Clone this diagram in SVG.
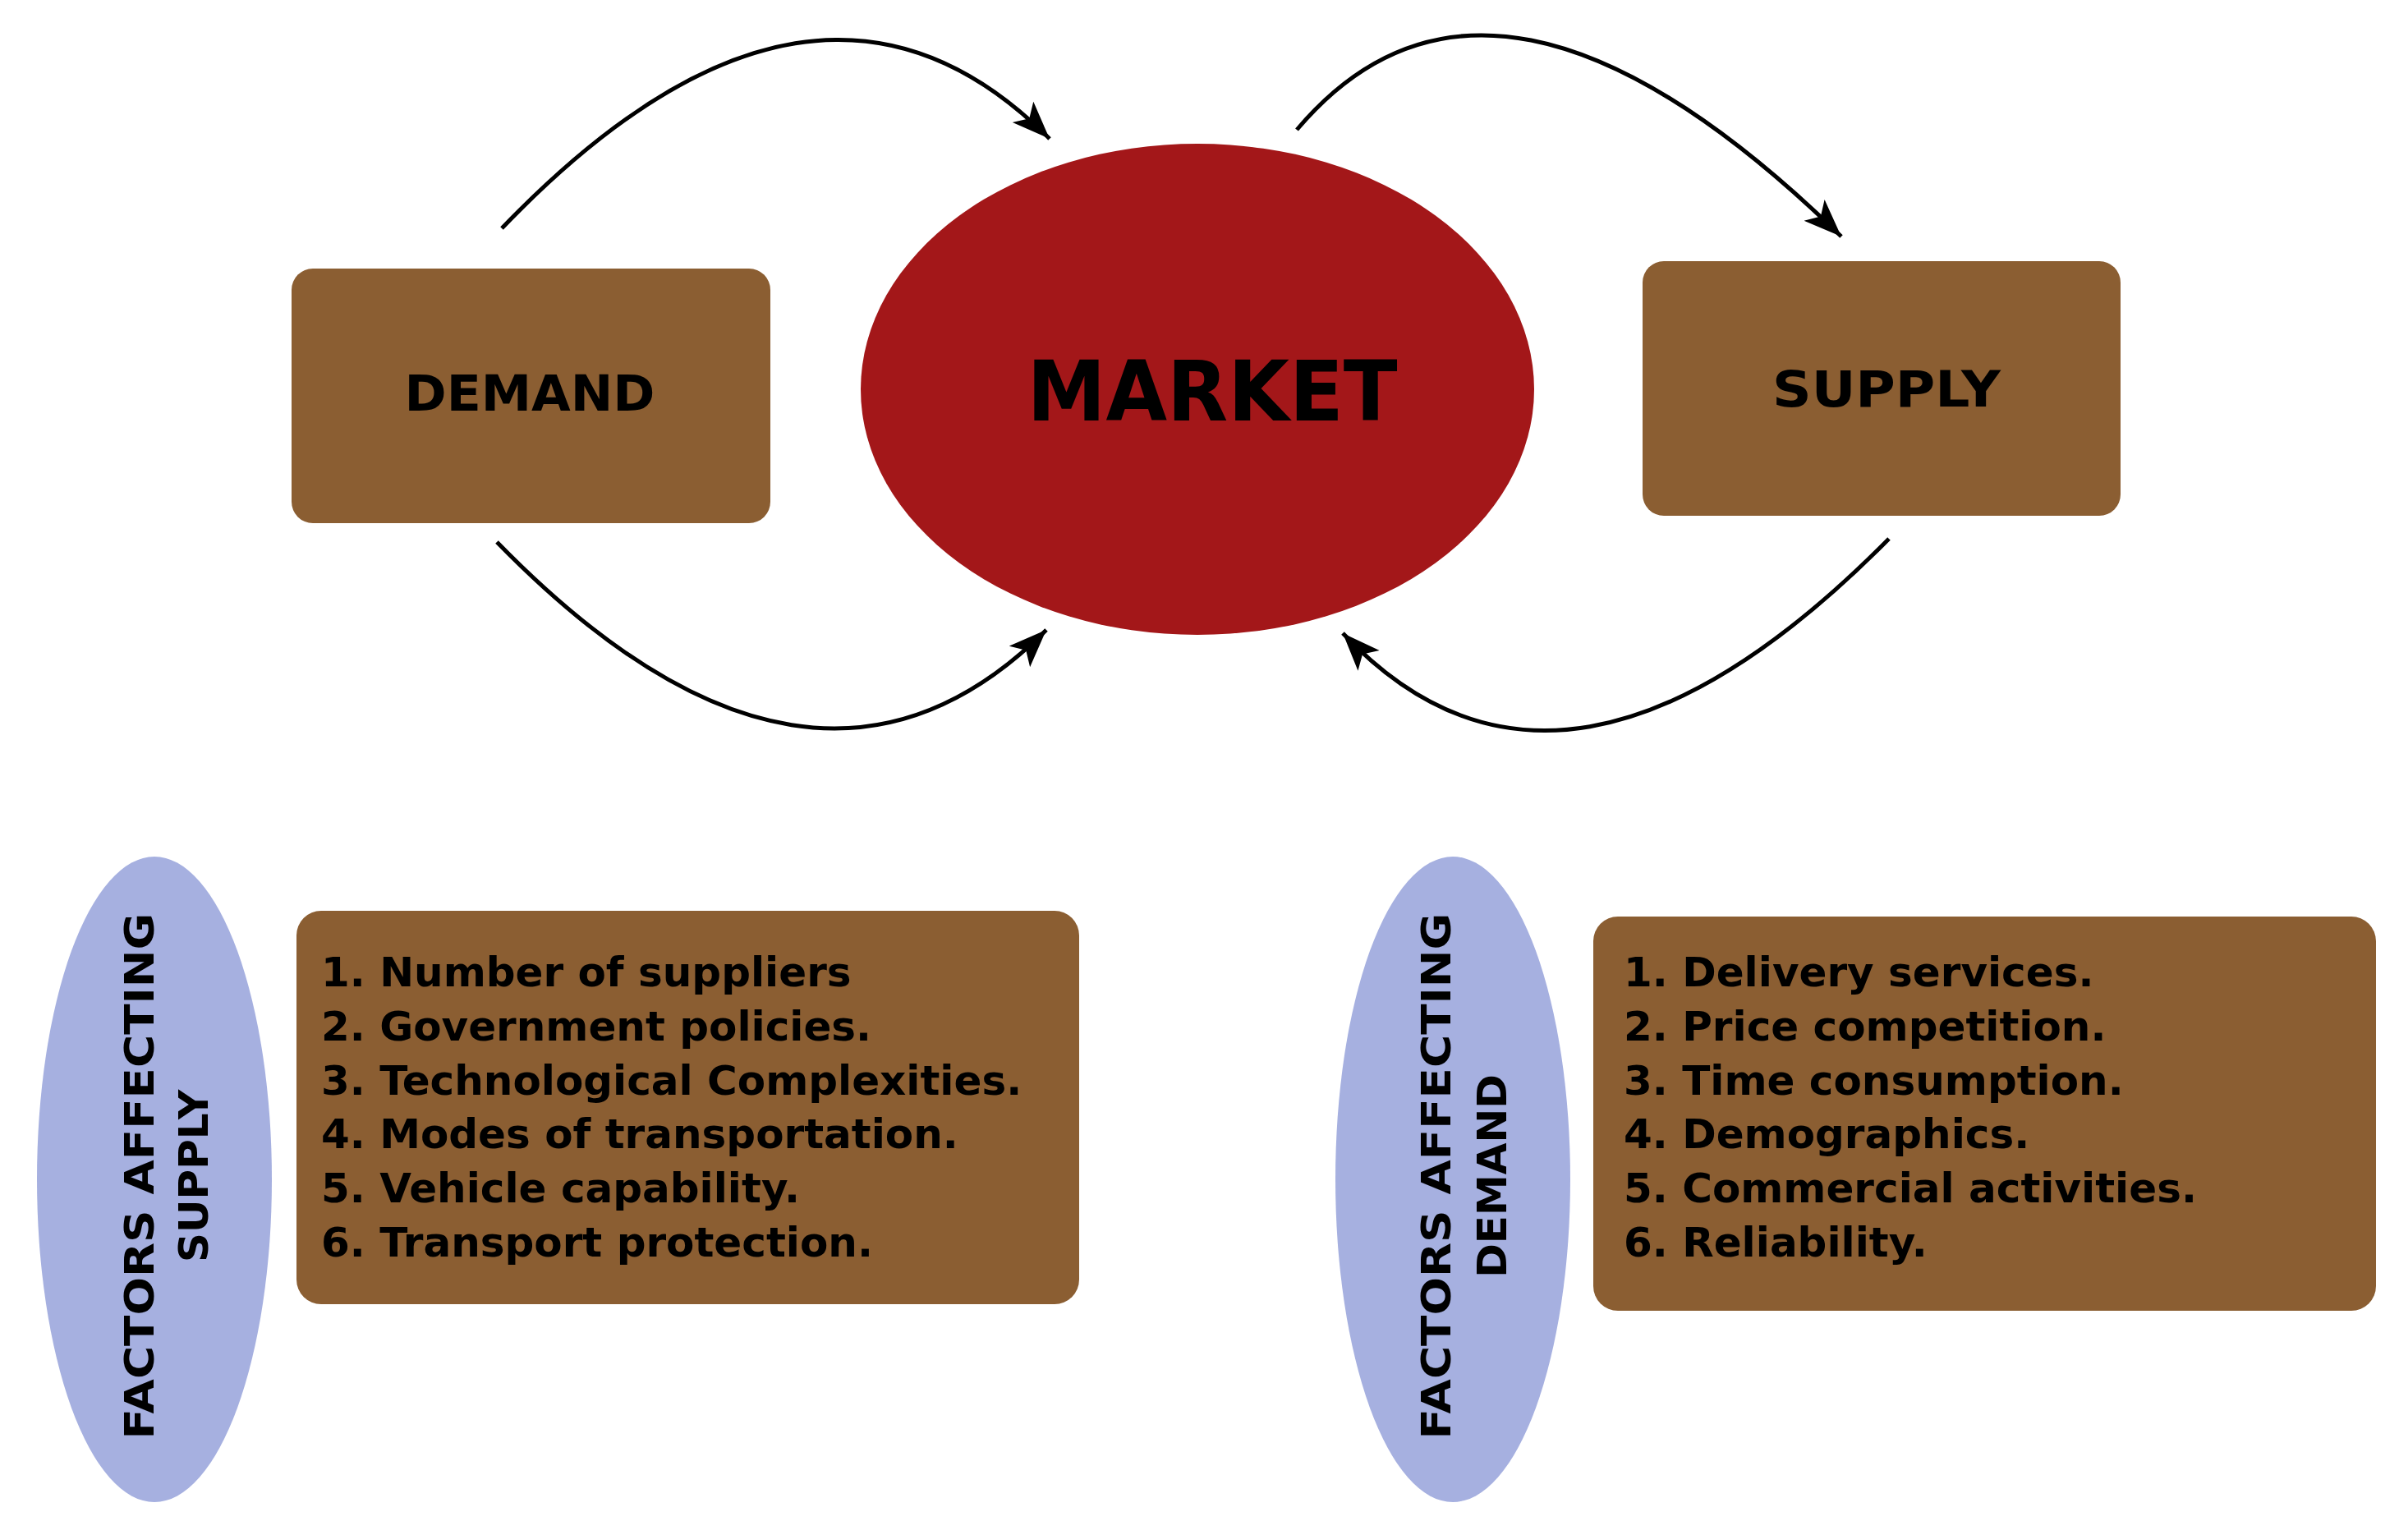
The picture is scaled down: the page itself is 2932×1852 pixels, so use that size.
<svg xmlns="http://www.w3.org/2000/svg" width="2932" height="1852" viewBox="0 0 2932 1852">
<style>
.box{fill:#8b5e32}
.oval{fill:#a6b0e0}
.t{font-family:"DejaVu Sans","Liberation Sans",sans-serif;font-weight:bold;fill:#000}
.list{font-size:50px}
.conn{fill:none;stroke:#000;stroke-width:5}
</style>
<defs>
<marker id="ah" markerUnits="userSpaceOnUse" markerWidth="60" markerHeight="50" refX="46" refY="18" orient="auto">
<path d="M0 0 L46 18 L0 36 L11 18 Z" fill="#000"/>
</marker>
</defs>
<rect width="2932" height="1852" fill="#fff"/>
<g id="demand"><rect class="box" x="355" y="327" width="583" height="310" rx="26"/><text class="t" x="645" y="500" font-size="60" text-anchor="middle" textLength="305" lengthAdjust="spacingAndGlyphs">DEMAND</text></g>
<g id="market"><ellipse cx="1458" cy="474" rx="410" ry="299" fill="#a31719"/><text class="t" x="1476" y="512" font-size="102" text-anchor="middle" textLength="451" lengthAdjust="spacingAndGlyphs">MARKET</text></g>
<g id="supply"><rect class="box" x="2000" y="318" width="582" height="310" rx="26"/><text class="t" x="2297" y="495" font-size="60" text-anchor="middle" textLength="278" lengthAdjust="spacingAndGlyphs">SUPPLY</text></g>
<g id="connectors">
<path class="conn" d="M611 278 Q992 -118 1278 169" marker-end="url(#ah)"/>
<path class="conn" d="M1579 158 Q1818 -125 2242 288" marker-end="url(#ah)"/>
<path class="conn" d="M605 660 Q988 1052 1274 767" marker-end="url(#ah)"/>
<path class="conn" d="M2300 656 Q1904 1056 1635 771" marker-end="url(#ah)"/>
</g>
<g id="supply-factors-label"><ellipse class="oval" cx="188" cy="1436" rx="143" ry="393"/>
<text class="t" font-size="50" text-anchor="middle" transform="translate(187 1432) rotate(-90)" textLength="641" lengthAdjust="spacingAndGlyphs">FACTORS AFFECTING</text>
<text class="t" font-size="50" text-anchor="middle" transform="translate(253 1432) rotate(-90)">SUPPLY</text></g>
<g id="supply-factors"><rect class="box" x="361" y="1109" width="953" height="479" rx="30"/>
<text class="t list" x="391" y="1201">1. Number of suppliers</text>
<text class="t list" x="391" y="1267">2. Government policies.</text>
<text class="t list" x="391" y="1333">3. Technological Complexities.</text>
<text class="t list" x="391" y="1398">4. Modes of transportation.</text>
<text class="t list" x="391" y="1464">5. Vehicle capability.</text>
<text class="t list" x="391" y="1530">6. Transport protection.</text></g>
<g id="demand-factors-label"><ellipse class="oval" cx="1769" cy="1436" rx="143" ry="393"/>
<text class="t" font-size="50" text-anchor="middle" transform="translate(1766 1432) rotate(-90)" textLength="641" lengthAdjust="spacingAndGlyphs">FACTORS AFFECTING</text>
<text class="t" font-size="50" text-anchor="middle" transform="translate(1834 1432) rotate(-90)">DEMAND</text></g>
<g id="demand-factors"><rect class="box" x="1940" y="1116" width="953" height="480" rx="30"/>
<text class="t list" x="1977" y="1201">1. Delivery services.</text>
<text class="t list" x="1977" y="1267">2. Price competition.</text>
<text class="t list" x="1977" y="1333">3. Time consumption.</text>
<text class="t list" x="1977" y="1398">4. Demographics.</text>
<text class="t list" x="1977" y="1464">5. Commercial activities.</text>
<text class="t list" x="1977" y="1530">6. Reliability.</text></g>
</svg>
